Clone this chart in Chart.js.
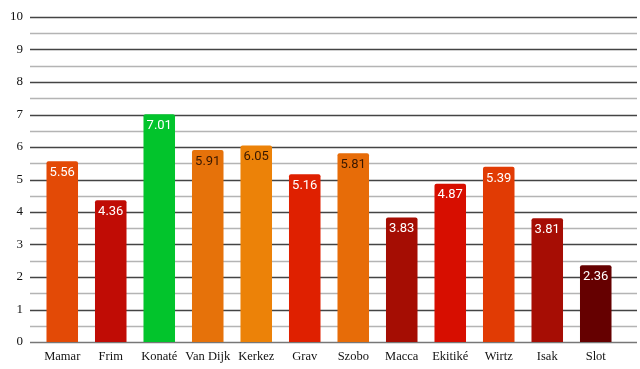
<!DOCTYPE html>
<html>
<head>
<meta charset="utf-8">
<script src="https://cdn.jsdelivr.net/npm/chart.js@4"></script>
<style>
html,body{margin:0;padding:0;background:#fff;}
#wrap{width:640px;height:369px;position:relative;}
</style>
</head>
<body>
<div id="wrap"><canvas id="c" width="640" height="369"></canvas></div>
<script>
const categories = ["Mamar","Frim","Konaté","Van Dijk","Kerkez","Grav","Szobo","Macca","Ekitiké","Wirtz","Isak","Slot"];
const values = [5.56,4.36,7.01,5.91,6.05,5.16,5.81,3.83,4.87,5.39,3.81,2.36];
const barColors = ["#e34a06","#c00c05","#02c42c","#e6720a","#ec8208","#df2000","#e76c08","#a50d03","#d70e00","#e13b04","#a60d04","#650000"];
const labelColors = ["#ffffff","#ffffff","#ffffff","#3a1800","#3a1800","#ffffff","#3a1800","#ffffff","#ffffff","#ffffff","#ffffff","#ffffff"];
const yTicks = [0,1,2,3,4,5,6,7,8,9,10];

const gridPlugin = {
  id: 'wideGrid',
  beforeDatasetsDraw(chart) {
    const ctx = chart.ctx, y = chart.scales.y;
    ctx.save();
    for (let v = 0; v <= 10; v += 0.5) {
      const py = Math.round(y.getPixelForValue(v)) + 0.5;
      const major = Number.isInteger(v);
      ctx.strokeStyle = v === 0 ? '#777777' : (major ? '#444444' : '#b4b4b4');
      ctx.lineWidth = 1.5;
      ctx.beginPath();
      ctx.moveTo(30, py);
      ctx.lineTo(637, py);
      ctx.stroke();
    }
    ctx.fillStyle = '#111';
    ctx.font = '13px "Liberation Serif"';
    ctx.textAlign = 'right';
    ctx.textBaseline = 'middle';
    yTicks.forEach(v => {
      ctx.fillText(String(v), 23, y.getPixelForValue(v));
    });
    ctx.restore();
  }
};

const valueLabels = {
  id: 'valueLabels',
  afterDatasetsDraw(chart) {
    const ctx = chart.ctx;
    const meta = chart.getDatasetMeta(0);
    ctx.save();
    ctx.font = '400 13px Roboto';
    ctx.textAlign = 'center';
    ctx.textBaseline = 'middle';
    meta.data.forEach((bar, i) => {
      ctx.fillStyle = labelColors[i];
      ctx.fillText(values[i].toFixed(2), bar.x, bar.y + 11.5);
    });
    ctx.restore();
  }
};

new Chart(document.getElementById('c'), {
  type: 'bar',
  data: {
    labels: categories,
    datasets: [{
      data: values,
      backgroundColor: barColors,
      borderWidth: 0,
      borderRadius: {topLeft: 2, topRight: 2, bottomLeft: 0, bottomRight: 0},
      borderSkipped: 'bottom',
      barPercentage: 0.65,
      categoryPercentage: 1
    }]
  },
  options: {
    responsive: false,
    animation: false,
    devicePixelRatio: 1,
    layout: { autoPadding: false, padding: { top: 17, right: 20, left: 0, bottom: 0 } },
    plugins: { legend: { display: false }, tooltip: { enabled: false } },
    scales: {
      x: {
        afterFit(s) { s.height = 27; },
        grid: { display: false, drawTicks: false },
        border: { display: false },
        ticks: { color: '#111', font: { family: 'Liberation Serif', size: 12.5 }, padding: 7, maxRotation: 0, autoSkip: false }
      },
      y: {
        min: 0, max: 10,
        afterFit(s) { s.width = 38; },
        grid: { display: false, drawTicks: false },
        border: { display: false },
        ticks: { display: false }
      }
    }
  },
  plugins: [gridPlugin, valueLabels]
});
</script>
</body>
</html>
